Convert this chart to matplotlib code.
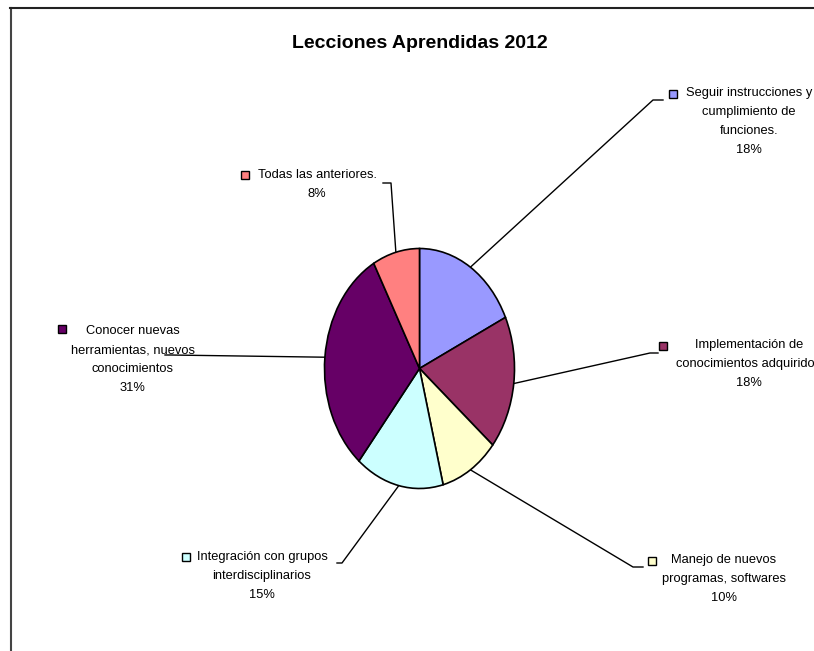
import numpy as np
import matplotlib.pyplot as plt
from matplotlib.lines import Line2D

plt.rcParams["font.family"] = ["Liberation Sans", "DejaVu Sans"]

W, H = 814, 651

title = "Lecciones Aprendidas 2012"
categories = [
    "Seguir instrucciones y\ncumplimiento de\nfunciones.",
    "Implementación de\nconocimientos adquiridos",
    "Manejo de nuevos\nprogramas, softwares",
    "Integración con grupos\ninterdisciplinarios",
    "Conocer nuevas\nherramientas, nuevos\nconocimientos",
    "Todas las anteriores.",
]
percents = [18, 18, 10, 15, 31, 8]
colors = ["#9999FF", "#993366", "#FFFFCC", "#CCFFFF", "#660066", "#FF8080"]

# label layout in pixels from the top-left corner:
# (key x, key y, text centre x, text first line y, leader stub, leader elbow)
label_layout = [
    (673, 94, 749, 94, (663, 100), (653, 100)),
    (663, 346, 749, 346, (658, 353), (650, 353)),
    (652, 561, 724, 561, (643, 567), (633, 567)),
    (186, 557, 262, 558, (337, 563), (342, 563)),
    (62, 329, 133, 332, (165, 355), (170, 355)),
    (245, 175, 317, 176, (383, 183), (391, 183)),
]

# pie ellipse centre and radii (pixels)
cx, cy, rx, ry = 419.5, 368.5, 95, 120

fig = plt.figure(figsize=(W / 100, H / 100), dpi=100)

# frame lines along the top and left edges
fig.add_artist(Line2D([10.5 / W, 10.5 / W], [0, 1 - 8 / H], color="#444444", lw=1.5))
fig.add_artist(Line2D([10 / W, 1], [1 - 8 / H, 1 - 8 / H], color="#222222", lw=1.5))

fig.text(cx / W, 1 - 44 / H, title, ha="center", va="center",
         fontsize=14, fontweight="bold")

ax = fig.add_axes([(cx - rx) / W, (H - cy - ry) / H, 2 * rx / W, 2 * ry / H])
wedges, _ = ax.pie(percents, colors=colors, startangle=90, counterclock=False,
                   radius=1, wedgeprops=dict(edgecolor="black", linewidth=1.2))
ax.set_aspect("auto")
ax.set_xlim(-1, 1)
ax.set_ylim(-1, 1)
ax.axis("off")

to_data = ax.transData.inverted()


def pix(p):
    return to_data.transform((p[0], H - p[1]))


for wedge, name, pct, col, lay in zip(wedges, categories, percents, colors, label_layout):
    kx, ky, tx, ty, stub, elbow = lay
    mid = np.deg2rad((wedge.theta1 + wedge.theta2) / 2)
    edge = (np.cos(mid), np.sin(mid))
    s = pix(stub)
    e = pix(elbow)
    ax.plot([s[0], e[0], edge[0]], [s[1], e[1], edge[1]], color="black",
            lw=1.0, clip_on=False, zorder=0)
    fig.add_artist(Line2D([kx / W], [1 - ky / H], marker="s", ms=5.5,
                          mfc=col, mec="black", mew=1.0, transform=fig.transFigure))
    fig.text(tx / W, 1 - (ty - 7) / H, f"{name}\n{pct}%", ha="center", va="top",
             fontsize=9.3, linespacing=1.78, multialignment="center")

fig.savefig("out.png", dpi=100)
